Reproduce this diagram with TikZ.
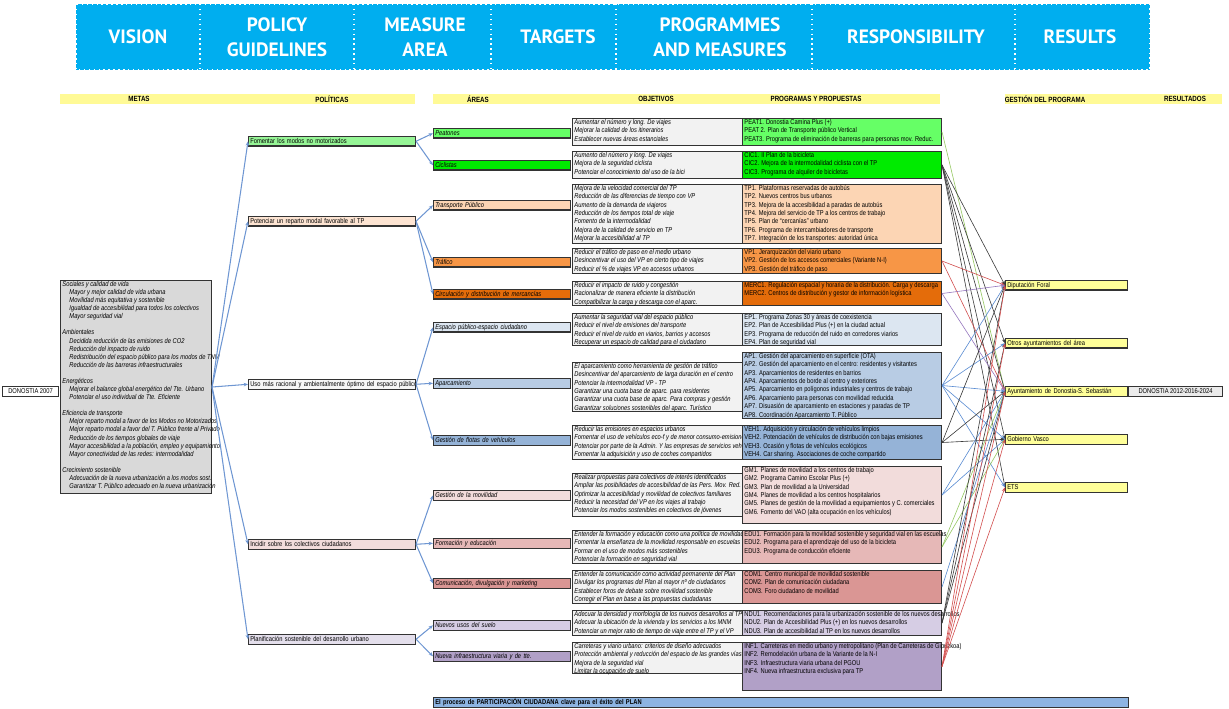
\documentclass[tikz,border=0pt]{standalone}
\usepackage{fontspec}
\usepackage{tikz}
\usetikzlibrary{arrows.meta,positioning}

\newfontfamily\hdrfont{PT Sans}
\newfontfamily\nar[FakeStretch=0.82]{Liberation Sans}

\definecolor{hdrblue}{RGB}{0,174,239}
\definecolor{bandyel}{RGB}{255,250,150}
\definecolor{objgrey}{RGB}{242,242,242}
\definecolor{metagrey}{RGB}{217,217,217}
\definecolor{linkblue}{RGB}{110,150,210}
\definecolor{respyel}{RGB}{255,255,153}
\definecolor{resgrey}{RGB}{235,235,235}
\definecolor{polA}{RGB}{150,245,150}
\definecolor{polB}{RGB}{253,228,210}
\definecolor{polC}{RGB}{246,246,246}
\definecolor{polD}{RGB}{242,220,219}
\definecolor{polE}{RGB}{228,223,236}
\definecolor{cPeat}{RGB}{102,255,102}
\definecolor{cCic}{RGB}{0,235,0}
\definecolor{cTP}{RGB}{252,213,180}
\definecolor{cTraf}{RGB}{247,150,70}
\definecolor{cMerc}{RGB}{228,108,10}
\definecolor{cEsp}{RGB}{220,230,241}
\definecolor{cApar}{RGB}{184,204,228}
\definecolor{cFlot}{RGB}{149,179,215}
\definecolor{cGM}{RGB}{242,220,219}
\definecolor{cForm}{RGB}{230,184,183}
\definecolor{cCom}{RGB}{218,150,148}
\definecolor{cNU}{RGB}{214,205,228}
\definecolor{cInf}{RGB}{177,160,199}
\definecolor{cPart}{RGB}{141,180,226}
\definecolor{lgreen}{RGB}{150,200,100}
\definecolor{lblack}{RGB}{60,60,60}
\definecolor{lred}{RGB}{210,80,80}
\definecolor{lpurple}{RGB}{150,120,190}
\definecolor{lblue}{RGB}{90,140,210}

\begin{document}
\begin{tikzpicture}[x=0.02cm, y=-0.02cm, >={Stealth[length=2.5pt,width=2pt]},
    box/.style={draw=black!80, line width=0.6pt, anchor=north west, inner sep=0pt},
    one/.style={box, inner xsep=1pt, align=left, minimum height=0.19cm, font=\nar\fontsize{4}{4.7}\selectfont},
    pol/.style={one, text width=3.27cm},
    area/.style={one, text width=2.67cm, font=\nar\itshape\fontsize{4}{4.7}\selectfont},
    resp/.style={one, fill=respyel, text width=2.37cm},
    ob/.style={box, fill=objgrey, minimum width=3.4cm},
    pg/.style={box, minimum width=3.98cm},
    txt/.style={anchor=north west, inner xsep=1.2pt, inner ysep=0.6pt, align=left, font=\nar\fontsize{4}{4.75}\selectfont},
    otxt/.style={txt, font=\nar\itshape\fontsize{4}{4.75}\selectfont},
    colhead/.style={font=\nar\bfseries\fontsize{4.3}{5}\selectfont},
    hdr/.style={text=white, align=center, font=\hdrfont\bfseries\fontsize{11}{14.5}\selectfont},
    link/.style={->, draw=linkblue, line width=0.6pt},
    rl/.style={->, line width=0.35pt}]
    \useasboundingbox (0,0) rectangle (1229,709);

    % Header band
    \fill[hdrblue] (76,4) rectangle (1150,70);
    \draw[white, dotted, line width=0.8pt] (76,4) rectangle (1150,70);
    \foreach \x in {200,354,491,616,812,1015}
        \draw[white, dotted, line width=0.8pt] (\x,4) -- (\x,70);
    \node[hdr] (hVis) at (138,37) {VISION};
    \node[hdr] (hPol) at (277,37) {POLICY\\GUIDELINES};
    \node[hdr] (hMea) at (425,37) {MEASURE\\AREA};
    \node[hdr] (hTar) at (558,37) {TARGETS};
    \node[hdr] (hPrg) at (720,37) {PROGRAMMES\\AND MEASURES};
    \node[hdr] (hRes) at (916,37) {RESPONSIBILITY};
    \node[hdr] (hOut) at (1080,37) {RESULTS};

    % Column titles
    \fill[bandyel] (60,94) rectangle (415,104);
    \fill[bandyel] (433,94) rectangle (940,104);
    \fill[bandyel] (1005,94) rectangle (1222,104);
    \node[colhead] (tMet) at (139,99) {METAS};
    \node[colhead] (tPol) at (332,99) {POLÍTICAS};
    \node[colhead] (tAre) at (478,99) {ÁREAS};
    \node[colhead] (tObj) at (656,99) {OBJETIVOS};
    \node[colhead] (tPrg) at (816,99) {PROGRAMAS Y PROPUESTAS};
    \node[colhead] (tGes) at (1045,99) {GESTIÓN DEL PROGRAMA};
    \node[colhead] (tRes) at (1185,99) {RESULTADOS};

    % Vision and goals
    \node[box, fill=white, minimum width=1.12cm, minimum height=0.2cm, font=\nar\fontsize{4}{4.7}\selectfont] (d2007) at (2,386) {DONOSTIA 2007};
    \node[box, fill=metagrey, minimum width=3.02cm, minimum height=4.26cm] (metas) at (60,280) {};
    \node[otxt, font=\nar\itshape\fontsize{4}{4.6}\selectfont] (metasT) at (metas.north west) {%
        Sociales y calidad de vida\\
        \hspace*{4pt}Mayor y mejor calidad de vida urbana\\
        \hspace*{4pt}Movilidad más equitativa y sostenible\\
        \hspace*{4pt}Igualdad de accesibilidad para todos los colectivos\\
        \hspace*{4pt}Mayor seguridad vial\\[4.6pt]
        Ambientales\\
        \hspace*{4pt}Decidida reducción de las emisiones de CO2\\
        \hspace*{4pt}Reducción del impacto de ruido\\
        \hspace*{4pt}Redistribución del espacio público para los modos de TNM\\
        \hspace*{4pt}Reducción de las barreras infraestructurales\\[4.6pt]
        Energéticos\\
        \hspace*{4pt}Mejorar el balance global energético del Tte. Urbano\\
        \hspace*{4pt}Potenciar el uso individual de Tte. Eficiente\\[4.6pt]
        Eficiencia de transporte\\
        \hspace*{4pt}Mejor reparto modal a favor de los Modos no Motorizados\\
        \hspace*{4pt}Mejor reparto modal a favor del T. Público frente al Privado\\
        \hspace*{4pt}Reducción de los tiempos globales de viaje\\
        \hspace*{4pt}Mayor accesibilidad a la población, empleo y equipamiento\\
        \hspace*{4pt}Mayor conectividad de las redes: intermodalidad\\[4.6pt]
        Crecimiento sostenible\\
        \hspace*{4pt}Adecuación de la nueva urbanización a los modos sost.\\
        \hspace*{4pt}Garantizar T. Público adecuado en la nueva urbanización};

    % Policies
    \node[pol, fill=polA] (pNoMot) at (248,136) {Fomentar los modos no motorizados};
    \node[pol, fill=polB] (pTP) at (248,216) {Potenciar un reparto modal favorable al TP};
    \node[pol, fill=polC] (pEsp) at (248,379) {\mbox{Uso más racional y ambientalmente óptimo del espacio público}};
    \node[pol, fill=polD] (pCol) at (248,539) {Incidir sobre los colectivos ciudadanos};
    \node[pol, fill=polE] (pUrb) at (248,634) {Planificación sostenible del desarrollo urbano};

    % Areas
    \node[area, fill=cPeat] (aPeat) at (433,128) {Peatones};
    \node[area, fill=cCic] (aCic) at (433,160) {Ciclistas};
    \node[area, fill=cTP] (aTP) at (433,200) {Transporte Público};
    \node[area, fill=cTraf] (aTraf) at (433,257) {Tráfico};
    \node[area, fill=cMerc] (aMerc) at (433,289) {Circulación y distribución de mercancías};
    \node[area, fill=cEsp] (aEsp) at (433,322) {Espacio público-espacio ciudadano};
    \node[area, fill=cApar] (aApar) at (433,378) {Aparcamiento};
    \node[area, fill=cFlot] (aFlot) at (433,435) {Gestión de flotas de vehículos};
    \node[area, fill=cGM] (aGM) at (433,490) {Gestión de la movilidad};
    \node[area, fill=cForm] (aForm) at (433,538) {Formación y educación};
    \node[area, fill=cCom] (aCom) at (433,578) {Comunicación, divulgación y marketing};
    \node[area, fill=cNU] (aNU) at (433,620) {Nuevos usos del suelo};
    \node[area, fill=cInf] (aInf) at (433,651) {Nueva infraestructura viaria y de tte.};

    % Objectives and programmes
    \node[ob, minimum height=0.54cm] (oPeat) at (572,118) {};
    \node[otxt] (oPeatT) at (oPeat.north west) {Aumentar el número y long. De viajes\\Mejorar la calidad de los itinerarios\\Establecer nuevas áreas estanciales};
    \node[pg, fill=cPeat, minimum height=0.54cm] (gPeat) at (742,118) {};
    \node[txt] (gPeatT) at (gPeat.north west) {PEAT1. Donostia Camina Plus (+)\\PEAT 2. Plan de Transporte público Vertical\\PEAT3. Programa de eliminación de barreras para personas mov. Reduc.};

    \node[ob, minimum height=0.54cm] (oCic) at (572,151) {};
    \node[otxt] (oCicT) at (oCic.north west) {Aumento del número y long. De viajes\\Mejora de la seguridad ciclista\\Potenciar el conocimiento del uso de la bici};
    \node[pg, fill=cCic, minimum height=0.54cm] (gCic) at (742,151) {};
    \node[txt] (gCicT) at (gCic.north west) {CIC1. II Plan de la bicicleta\\CIC2. Mejora de la intermodalidad ciclista con el TP\\CIC3. Programa de alquiler de bicicletas};

    \node[ob, minimum height=1.18cm] (oTP) at (572,184) {};
    \node[otxt] (oTPT) at (oTP.north west) {Mejora de la velocidad comercial del TP\\Reducción de las diferencias de tiempo con VP\\Aumento de la demanda de viajeros\\Reducción de los tiempos total de viaje\\Fomento de la intermodalidad\\Mejora de la calidad de servicio en TP\\Mejorar la accesibilidad al TP};
    \node[pg, fill=cTP, minimum height=1.18cm] (gTP) at (742,184) {};
    \node[txt] (gTPT) at (gTP.north west) {TP1. Plataformas reservadas de autobús\\TP2. Nuevos centros bus urbanos\\TP3. Mejora de la accesibilidad a paradas de autobús\\TP4. Mejora del servicio de TP a los centros de trabajo\\TP5. Plan de “cercanías” urbano\\TP6. Programa de intercambiadores de transporte\\TP7. Integración de los transportes: autoridad única};

    \node[ob, minimum height=0.5cm] (oTraf) at (572,248) {};
    \node[otxt] (oTrafT) at (oTraf.north west) {Reducir el tráfico de paso en el medio urbano\\Desincentivar el uso del VP en cierto tipo de viajes\\Reducir el \% de viajes VP en accesos urbanos};
    \node[pg, fill=cTraf, minimum height=0.5cm] (gTraf) at (742,248) {};
    \node[txt] (gTrafT) at (gTraf.north west) {VP1. Jerarquización del viario urbano\\VP2. Gestión de los accesos comerciales (Variante N-I)\\VP3. Gestión del tráfico de paso};

    \node[ob, minimum height=0.48cm] (oMerc) at (572,281) {};
    \node[otxt] (oMercT) at (oMerc.north west) {Reducir el impacto de ruido y congestión\\Racionalizar de manera eficiente la distribución\\Compatibilizar la carga y descarga con el aparc.};
    \node[pg, fill=cMerc, minimum height=0.48cm] (gMerc) at (742,281) {};
    \node[txt] (gMercT) at (gMerc.north west) {MERC1. Regulación espacial y horaria de la distribución. Carga y descarga\\MERC2. Centros de distribución y gestor de información logística};

    \node[ob, minimum height=0.64cm] (oEsp) at (572,313) {};
    \node[otxt] (oEspT) at (oEsp.north west) {Aumentar la seguridad vial del espacio público\\Reducir el nivel de emisiones del transporte\\Reducir el nivel de ruido en viarios, barrios y accesos\\Recuperar un espacio de calidad para el ciudadano};
    \node[pg, fill=cEsp, minimum height=0.64cm] (gEsp) at (742,313) {};
    \node[txt] (gEspT) at (gEsp.north west) {EP1. Programa Zonas 30 y áreas de coexistencia\\EP2. Plan de Accesibilidad Plus (+) en la ciudad actual\\EP3. Programa de reducción del ruido en corredores viarios\\EP4. Plan de seguridad vial};

    \node[ob, minimum height=0.98cm] (oApar) at (572,362) {};
    \node[otxt] (oAparT) at (oApar.north west) {El aparcamiento como herramienta de gestión de tráfico\\Desincentivar del aparcamiento de larga duración en el centro\\Potenciar la intermodalidad VP - TP\\Garantizar una cuota base de aparc. para residentes\\Garantizar una cuota base de aparc. Para compras y gestión\\Garantizar soluciones sostenibles del aparc. Turístico};
    \node[pg, fill=cApar, minimum height=1.32cm] (gApar) at (742,352) {};
    \node[txt] (gAparT) at (gApar.north west) {AP1. Gestión del aparcamiento en superficie (OTA)\\AP2. Gestión del aparcamiento en el centro: residentes y visitantes\\AP3. Aparcamientos de residentes en barrios\\AP4. Aparcamientos de borde al centro y exteriores\\AP5. Aparcamiento en polígonos industriales y centros de trabajo\\AP6. Aparcamiento para personas con movilidad reducida\\AP7. Disuasión de aparcamiento en estaciones y paradas de TP\\AP8. Coordinación Aparcamiento T. Público};

    \node[ob, minimum height=0.68cm] (oFlot) at (572,425) {};
    \node[otxt] (oFlotT) at (oFlot.north west) {Reducir las emisiones en espacios urbanos\\Fomentar el uso de vehículos eco-f y de menor consumo-emisiones\\Potenciar por parte de la Admin. Y las empresas de servicios veh.\\Fomentar la adquisición y uso de coches compartidos};
    \node[pg, fill=cFlot, minimum height=0.68cm] (gFlot) at (742,425) {};
    \node[txt] (gFlotT) at (gFlot.north west) {VEH1. Adquisición y circulación de vehículos limpios\\VEH2. Potenciación de vehículos de distribución con bajas emisiones\\VEH3. Ocasión y flotas de vehículos ecológicos\\VEH4. Car sharing. Asociaciones de coche compartido};

    \node[ob, minimum height=0.86cm] (oGM) at (572,473) {};
    \node[otxt] (oGMT) at (oGM.north west) {Realizar propuestas para colectivos de interés identificados\\Ampliar las posibilidades de accesibilidad de las Pers. Mov. Red.\\Optimizar la accesibilidad y movilidad de colectivos familiares\\Reducir la necesidad del VP en los viajes al trabajo\\Potenciar los modos sostenibles en colectivos de jóvenes};
    \node[pg, fill=cGM, minimum height=1.14cm] (gGM) at (742,466) {};
    \node[txt] (gGMT) at (gGM.north west) {GM1. Planes de movilidad a los centros de trabajo\\GM2. Programa Camino Escolar Plus (+)\\GM3. Plan de movilidad a la Universidad\\GM4. Planes de movilidad a los centros hospitalarios\\GM5. Planes de gestión de la movilidad a equipamientos y C. comerciales\\GM6. Fomento del VAO (alta ocupación en los vehículos)};

    \node[ob, minimum height=0.66cm] (oForm) at (572,530) {};
    \node[otxt] (oFormT) at (oForm.north west) {Entender la formación y educación como una política de movilidad\\Fomentar la enseñanza de la movilidad responsable en escuelas\\Formar en el uso de modos más sostenibles\\Potenciar la formación en seguridad vial};
    \node[pg, fill=cForm, minimum height=0.66cm] (gForm) at (742,530) {};
    \node[txt] (gFormT) at (gForm.north west) {EDU1. Formación para la movilidad sostenible y seguridad vial en las escuelas\\EDU2. Programa para el aprendizaje del uso de la bicicleta\\EDU3. Programa de conducción eficiente};

    \node[ob, minimum height=0.66cm] (oCom) at (572,570) {};
    \node[otxt] (oComT) at (oCom.north west) {Entender la comunicación como actividad permanente del Plan\\Divulgar los programas del Plan al mayor nº de ciudadanos\\Establecer foros de debate sobre movilidad sostenible\\Corregir el Plan en base a las propuestas ciudadanas};
    \node[pg, fill=cCom, minimum height=0.66cm] (gCom) at (742,570) {};
    \node[txt] (gComT) at (gCom.north west) {COM1. Centro municipal de movilidad sostenible\\COM2. Plan de comunicación ciudadana\\COM3. Foro ciudadano de movilidad};

    \node[ob, minimum height=0.5cm] (oNU) at (572,610) {};
    \node[otxt] (oNUT) at (oNU.north west) {Adecuar la densidad y morfología de los nuevos desarrollos al TP\\Adecuar la ubicación de la vivienda y los servicios a los MNM\\Potenciar un mejor ratio de tiempo de viaje entre el TP y el VP};
    \node[pg, fill=cNU, minimum height=0.5cm] (gNU) at (742,610) {};
    \node[txt] (gNUT) at (gNU.north west) {NDU1. Recomendaciones para la urbanización sostenible de los nuevos desarrollos\\NDU2. Plan de Accesibilidad Plus (+) en los nuevos desarrollos\\NDU3. Plan de accesibilidad al TP en los nuevos desarrollos};

    \node[ob, minimum height=0.62cm] (oInf) at (572,642) {};
    \node[otxt] (oInfT) at (oInf.north west) {Carreteras y viario urbano: criterios de diseño adecuados\\Protección ambiental y reducción del espacio de las grandes vías\\Mejora de la seguridad vial\\Limitar la ocupación de suelo};
    \node[pg, fill=cInf, minimum height=0.96cm] (gInf) at (742,642) {};
    \node[txt] (gInfT) at (gInf.north west) {INF1. Carreteras en medio urbano y metropolitano (Plan de Carreteras de Gipuzkoa)\\INF2. Remodelación urbana de la Variante de la N-I\\INF3. Infraestructura viaria urbana del PGOU\\INF4. Nueva infraestructura exclusiva para TP};

    % Participation bar
    \node[one, fill=cPart, text width=13.83cm, font=\nar\bfseries\fontsize{4}{4.7}\selectfont] (part) at (433,697) {El proceso de PARTICIPACIÓN CIUDADANA clave para el éxito del PLAN};

    % Responsibility and results
    \node[resp] (rDip) at (1005,280) {Diputación Foral};
    \node[resp] (rOtros) at (1005,338) {Otros ayuntamientos del área};
    \node[resp] (rAyto) at (1005,386) {Ayuntamiento de Donostia-S. Sebastián};
    \node[resp] (rGV) at (1005,434) {Gobierno Vasco};
    \node[resp] (rETS) at (1005,482) {ETS};
    \node[box, fill=resgrey, minimum width=1.88cm, minimum height=0.2cm, font=\nar\fontsize{4}{4.7}\selectfont] (res) at (1128,386) {DONOSTIA 2012-2016-2024};

    % Goals to policies
    \draw[link] (metas.east) -- (pNoMot.west);
    \draw[link] (metas.east) -- (pTP.west);
    \draw[link] (metas.east) -- (pEsp.west);
    \draw[link] (metas.east) -- (pCol.west);
    \draw[link] (metas.east) -- (pUrb.west);

    % Policies to areas
    \draw[link] (pNoMot.east) -- (aPeat.west);
    \draw[link] (pNoMot.east) -- (aCic.west);
    \draw[link] (pTP.east) -- (aTP.west);
    \draw[link] (pTP.east) -- (aTraf.west);
    \draw[link] (pTP.east) -- (aMerc.west);
    \draw[link] (pEsp.east) -- (aEsp.west);
    \draw[link] (pEsp.east) -- (aApar.west);
    \draw[link] (pEsp.east) -- (aFlot.west);
    \draw[link] (pCol.east) -- (aGM.west);
    \draw[link] (pCol.east) -- (aForm.west);
    \draw[link] (pCol.east) -- (aCom.west);
    \draw[link] (pUrb.east) -- (aNU.west);
    \draw[link] (pUrb.east) -- (aInf.west);

    % Programmes to responsibility
    \draw[rl, lgreen] (gPeat.east) -- (rAyto.west);
    \draw[rl, lblack] (gCic.east) -- (rDip.west);
    \draw[rl, lblack] (gCic.east) -- (rOtros.west);
    \draw[rl, lblack] (gCic.east) -- (rAyto.west);
    \draw[rl, lblack] (gCic.east) -- (rGV.west);
    \draw[rl, lblack] (gCic.east) -- (rETS.west);
    \draw[rl, lred] (gTraf.east) -- (rDip.west);
    \draw[rl, lred] (gTraf.east) -- (rAyto.west);
    \draw[rl, lpurple] (gMerc.east) -- (rDip.west);
    \draw[rl, lpurple] (gMerc.east) -- (rAyto.west);
    \draw[rl, lblue] (gApar.east) -- (rDip.west);
    \draw[rl, lblue] (gApar.east) -- (rOtros.west);
    \draw[rl, lblue] (gApar.east) -- (rAyto.west);
    \draw[rl, lblue] (gApar.east) -- (rGV.west);
    \draw[rl, lblue] (gApar.east) -- (rETS.west);
    \draw[rl, lblack] (gFlot.east) -- (rDip.west);
    \draw[rl, lblack] (gFlot.east) -- (rAyto.west);
    \draw[rl, lblack] (gFlot.east) -- (rGV.west);
    \draw[rl, lblue] (gGM.east) -- (rAyto.west);
    \draw[rl, lblue] (gGM.east) -- (rGV.west);
    \draw[rl, lgreen] (gForm.east) -- (rAyto.west);
    \draw[rl, lgreen] (gForm.east) -- (rGV.west);
    \draw[rl, lblue] (gCom.east) -- (rAyto.west);
    \draw[rl, lblack] (gNU.east) -- (rDip.west);
    \draw[rl, lblack] (gNU.east) -- (rOtros.west);
    \draw[rl, lblack] (gNU.east) -- (rAyto.west);
    \draw[rl, lred] (gInf.east) -- (rDip.west);
    \draw[rl, lred] (gInf.east) -- (rOtros.west);
    \draw[rl, lred] (gInf.east) -- (rAyto.west);
    \draw[rl, lred] (gInf.east) -- (rGV.west);
    \draw[rl, lred] (gInf.east) -- (rETS.west);
\end{tikzpicture}
\end{document}
